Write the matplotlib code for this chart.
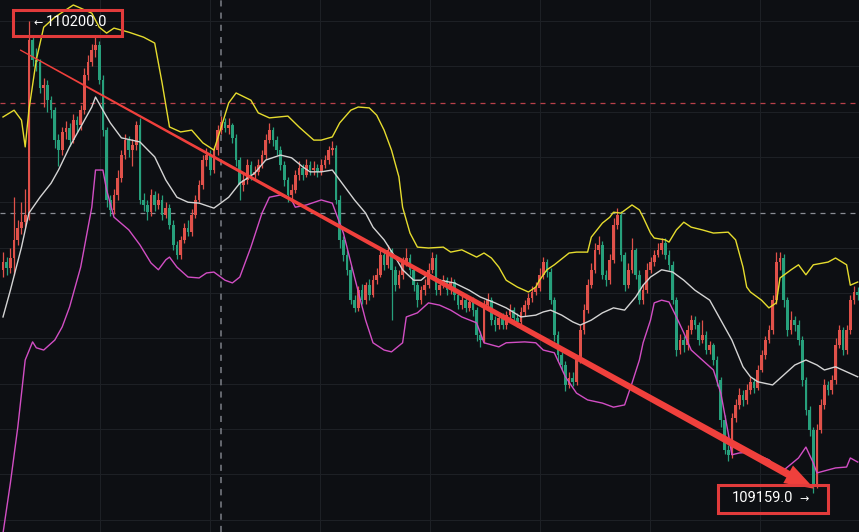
import numpy as np
import matplotlib.pyplot as plt
from matplotlib.patches import Polygon, Rectangle
from matplotlib.transforms import IdentityTransform

# candle data (price), open of each candle = previous close
first_open = 109650
close = [109668, 109655, 109677, 109717, 109743, 109756, 109772, 110158, 110114, 110109,
         110052, 110059, 110025, 110003, 109937, 109915, 109955, 109964, 109937, 109981,
         109970, 110003, 110081, 110109, 110136, 110147, 110070, 109959, 109805, 109783,
         109816, 109853, 109904, 109937, 109915, 109926, 109970, 109805, 109794, 109778,
         109816, 109794, 109805, 109772, 109787, 109750, 109706, 109684, 109717, 109743,
         109734, 109772, 109805, 109838, 109893, 109904, 109871, 109915, 109959, 109977,
         109964, 109970, 109942, 109893, 109838, 109849, 109882, 109860, 109867, 109882,
         109904, 109937, 109959, 109937, 109915, 109882, 109849, 109816, 109827, 109860,
         109876, 109860, 109882, 109871, 109876, 109867, 109882, 109893, 109915, 109920,
         109805, 109717, 109684, 109651, 109584, 109567, 109606, 109584, 109617, 109595,
         109628, 109640, 109684, 109662, 109695, 109651, 109617, 109640, 109668, 109677,
         109651, 109617, 109584, 109606, 109617, 109651, 109677, 109606, 109617, 109628,
         109606, 109624, 109595, 109573, 109584, 109567, 109580, 109562, 109507, 109496,
         109573, 109584, 109540, 109529, 109545, 109529, 109551, 109562, 109545, 109536,
         109558, 109573, 109589, 109602, 109611, 109640, 109668, 109646, 109584, 109507,
         109463, 109441, 109397, 109412, 109404, 109452, 109518, 109562, 109617, 109651,
         109695, 109706, 109640, 109628, 109673, 109750, 109772, 109684, 109617, 109651,
         109695, 109640, 109584, 109606, 109651, 109668, 109684, 109695, 109710, 109684,
         109662, 109584, 109474, 109496, 109485, 109518, 109540, 109529, 109496, 109507,
         109474, 109485, 109452, 109408, 109320, 109254, 109243, 109324, 109353, 109375,
         109364, 109386, 109404, 109390, 109430, 109463, 109496, 109518, 109584, 109668,
         109677, 109584, 109518, 109540, 109529, 109496, 109408, 109342, 109298, 109176,
         109298, 109353, 109397, 109386, 109408, 109485, 109518, 109474, 109518, 109584,
         109602, 109595]
high = [109690, 109680, 109700, 109811, 109760, 109800, 109830, 110200, 110165, 110140,
        110115, 110075, 110070, 110035, 110010, 109950, 109965, 109980, 109975, 109995,
        109990, 110015, 110095, 110125, 110150, 110164, 110155, 110080, 109965, 109815,
        109830, 109870, 109915, 109950, 109945, 109940, 109980, 109986, 109820, 109805,
        109830, 109825, 109820, 109815, 109800, 109795, 109760, 109715, 109725, 109755,
        109760, 109785, 109815, 109850, 109905, 109920, 109915, 109925, 109970, 109990,
        109985, 109985, 109975, 109950, 109900, 109865, 109895, 109890, 109880, 109895,
        109915, 109950, 109975, 109965, 109945, 109925, 109890, 109855, 109840, 109870,
        109890, 109885, 109895, 109890, 109890, 109885, 109895, 109905, 109925, 109935,
        109926, 109815, 109725, 109695, 109660, 109595, 109615, 109620, 109625, 109630,
        109640, 109655, 109695, 109690, 109705, 109700, 109660, 109650, 109680, 109700,
        109685, 109660, 109625, 109615, 109630, 109665, 109690, 109685, 109630, 109640,
        109635, 109635, 109630, 109605, 109595, 109595, 109590, 109590, 109570, 109515,
        109585, 109600, 109590, 109550, 109555, 109555, 109560, 109575, 109570, 109555,
        109570, 109585, 109600, 109615, 109625, 109655, 109680, 109675, 109655, 109590,
        109515, 109470, 109450, 109425, 109425, 109460, 109530, 109575, 109630, 109665,
        109710, 109725, 109715, 109650, 109685, 109765, 109787, 109780, 109690, 109665,
        109720, 109700, 109650, 109620, 109665, 109680, 109695, 109710, 109720, 109720,
        109695, 109670, 109590, 109510, 109505, 109530, 109552, 109550, 109535, 109540,
        109515, 109495, 109490, 109460, 109415, 109330, 109265, 109335, 109365, 109390,
        109385, 109400, 109415, 109412, 109442, 109475, 109505, 109530, 109595, 109690,
        109690, 109685, 109590, 109560, 109548, 109540, 109505, 109415, 109350, 109305,
        109310, 109365, 109410, 109405, 109420, 109500, 109530, 109525, 109530, 109596,
        109615, 109612]
low = [109635, 109640, 109645, 109640, 109705, 109730, 109745, 109760, 110100, 110090,
       110040, 110010, 110000, 109985, 109920, 109880, 109905, 109940, 109925, 109930,
       109955, 109960, 109995, 110070, 110100, 110120, 110060, 109945, 109790, 109770,
       109775, 109805, 109845, 109895, 109900, 109880, 109915, 109795, 109780, 109760,
       109770, 109780, 109785, 109760, 109765, 109740, 109695, 109675, 109675, 109710,
       109725, 109725, 109765, 109800, 109830, 109880, 109860, 109865, 109905, 109950,
       109955, 109950, 109930, 109880, 109805, 109825, 109840, 109850, 109850, 109860,
       109875, 109895, 109930, 109925, 109905, 109870, 109835, 109800, 109805, 109820,
       109850, 109850, 109855, 109860, 109860, 109855, 109860, 109875, 109885, 109905,
       109795, 109700, 109670, 109640, 109575, 109558, 109560, 109575, 109575, 109585,
       109590, 109620, 109635, 109650, 109655, 109540, 109605, 109610, 109630, 109660,
       109640, 109605, 109570, 109575, 109595, 109610, 109645, 109595, 109595, 109610,
       109595, 109598, 109585, 109565, 109565, 109558, 109560, 109550, 109495, 109480,
       109490, 109565, 109530, 109515, 109520, 109520, 109520, 109545, 109535, 109525,
       109530, 109550, 109565, 109580, 109595, 109605, 109630, 109635, 109575, 109495,
       109450, 109430, 109384, 109390, 109395, 109398, 109445, 109510, 109555, 109610,
       109645, 109685, 109630, 109615, 109620, 109665, 109740, 109670, 109605, 109610,
       109645, 109630, 109575, 109575, 109600, 109645, 109660, 109680, 109685, 109675,
       109650, 109575, 109460, 109465, 109470, 109475, 109510, 109520, 109485, 109490,
       109465, 109465, 109440, 109395, 109305, 109245, 109230, 109235, 109315, 109345,
       109350, 109355, 109378, 109380, 109385, 109425, 109455, 109490, 109510, 109575,
       109650, 109570, 109505, 109510, 109515, 109485, 109395, 109330, 109285, 109159,
       109170, 109290, 109345, 109375, 109378, 109400, 109478, 109462, 109465, 109510,
       109575, 109585]

# bollinger bands (candle index, price)
upper_idx = [0, 3, 5, 6, 7, 9, 11, 14, 19, 21, 24, 26, 28, 30, 34, 38, 41, 43, 45, 48,
             51, 54, 57, 59, 61, 63, 67, 69, 72, 77, 80, 84, 86, 89, 91, 94, 96, 99, 101, 103,
             105, 107, 108, 110, 112, 115, 119, 121, 124, 128, 130, 132, 134, 136, 139, 142, 144, 145, 147, 149,
             153, 155, 158, 159, 162, 164, 165, 167, 170, 172, 173, 175, 176, 179, 180, 182, 184, 186, 189, 192,
             196, 198, 200, 201, 202, 205, 207, 209, 210, 213, 215, 217, 219, 223, 225, 228, 229, 231]
upper_val = [109988, 110003, 109981, 109922, 110003, 110114, 110186, 110208, 110235, 110228,
             110217, 110186, 110173, 110184, 110175, 110164, 110151, 110063, 109966, 109955,
             109959, 109931, 109915, 109966, 110019, 110041, 110025, 109997, 109986, 109990,
             109966, 109937, 109937, 109944, 109975, 110003, 110010, 110008, 109992, 109959,
             109915, 109856, 109789, 109732, 109701, 109699, 109701, 109690, 109695, 109679,
             109688, 109677, 109657, 109628, 109613, 109602, 109613, 109628, 109651, 109662,
             109688, 109690, 109690, 109723, 109754, 109767, 109778, 109776, 109794, 109783,
             109767, 109732, 109721, 109717, 109712, 109739, 109756, 109745, 109739, 109732,
             109734, 109717, 109657, 109613, 109602, 109584, 109567, 109578, 109633, 109651,
             109662, 109640, 109662, 109668, 109677, 109662, 109617, 109624]
mid_idx = [0, 2, 5, 7, 10, 13, 15, 18, 21, 24, 25, 27, 29, 32, 37, 41, 44, 47, 50, 53,
           57, 61, 64, 68, 71, 75, 78, 81, 83, 86, 89, 91, 95, 98, 100, 103, 106, 108, 111, 113,
           115, 118, 122, 126, 129, 133, 136, 140, 144, 146, 148, 151, 154, 156, 159, 162, 165, 168, 171, 173,
           175, 178, 181, 184, 187, 191, 194, 197, 200, 202, 204, 208, 211, 214, 217, 220, 222, 225, 228, 231]
mid_val = [109547, 109606, 109701, 109776, 109811, 109842, 109871, 109922, 109966, 110010,
           110032, 110003, 109975, 109942, 109933, 109900, 109849, 109811, 109800, 109798,
           109787, 109811, 109842, 109864, 109893, 109904, 109898, 109878, 109867, 109867,
           109871, 109849, 109805, 109776, 109745, 109717, 109679, 109651, 109628, 109628,
           109642, 109628, 109622, 109606, 109591, 109578, 109567, 109547, 109551, 109558,
           109562, 109551, 109536, 109529, 109540, 109556, 109567, 109562, 109591, 109617,
           109635, 109651, 109646, 109628, 109606, 109584, 109540, 109496, 109437, 109415,
           109404, 109397, 109419, 109441, 109452, 109441, 109430, 109437, 109426, 109415]
lower_idx = [0, 2, 4, 6, 8, 9, 11, 14, 16, 18, 21, 24, 25, 27, 28, 30, 34, 37, 40, 42,
             44, 45, 47, 50, 53, 55, 57, 60, 62, 64, 67, 70, 72, 75, 78, 79, 82, 86, 89, 92,
             95, 98, 100, 103, 105, 108, 109, 112, 115, 118, 121, 124, 128, 130, 134, 136, 141, 144, 146, 149,
             152, 155, 158, 162, 165, 168, 170, 172, 173, 175, 176, 178, 180, 182, 184, 186, 189, 192, 194, 196,
             197, 199, 202, 207, 209, 211, 215, 217, 219, 220, 225, 228, 229, 231]
lower_val = [109070, 109181, 109304, 109452, 109492, 109479, 109474, 109496, 109525, 109569,
             109657, 109789, 109871, 109871, 109827, 109767, 109739, 109706, 109666, 109651,
             109673, 109679, 109657, 109635, 109633, 109644, 109646, 109628, 109622, 109635,
             109701, 109776, 109811, 109816, 109805, 109789, 109794, 109805, 109798, 109732,
             109635, 109540, 109490, 109474, 109470, 109490, 109547, 109556, 109578, 109573,
             109562, 109547, 109534, 109490, 109481, 109490, 109492, 109490, 109474, 109468,
             109415, 109379, 109364, 109357, 109348, 109353, 109401, 109452, 109490, 109540,
             109578, 109584, 109580, 109547, 109512, 109474, 109452, 109430, 109379, 109291,
             109243, 109247, 109249, 109232, 109216, 109209, 109236, 109260, 109225, 109203,
             109214, 109216, 109236, 109227]

level_red = 110019
level_gray = 109776
cursor_idx = 58.9
high_label = "110200.0"
low_label = "109159.0"
trend_start = (4.6, 110136)
trend_end = (219.3, 109168)

bg = '#0d0f13'
up_col = '#e0514a'
down_col = '#27a07c'

fig = plt.figure(figsize=(8.59, 5.32), dpi=100)
fig.patch.set_facecolor(bg)
ax = fig.add_axes([0, 0, 1, 1])
ax.set_facecolor(bg)
ax.set_xlim(-0.81, 231.35)
ax.set_ylim(109072.7, 110246)
ax.axis('off')

# grid
for p in np.arange(109100, 110300, 100):
    ax.axhline(p, color='#1d2025', lw=0.8, zorder=0)
for xi in np.arange(26.2, 232, 29.73):
    ax.axvline(xi, color='#1d2025', lw=0.8, zorder=0)

ax.axvline(cursor_idx, color='#7d8088', lw=1.1, ls=(0, (4, 4)), zorder=1)
ax.axhline(level_red, color='#b8404a', lw=0.9, ls=(0, (4, 4)), zorder=1)
ax.axhline(level_gray, color='#8a8d94', lw=0.9, ls=(0, (4, 4)), zorder=1)

# candles
idx = np.arange(len(close))
c = np.array(close, dtype=float)
o = np.array([first_open] + close[:-1], dtype=float)
h = np.array(high, dtype=float)
l = np.array(low, dtype=float)
cols = np.where(c >= o, up_col, down_col)
ax.vlines(idx, l, h, colors=cols, lw=0.9, zorder=2)
body = np.maximum(np.abs(c - o), 2.5)
ax.bar(idx, body, bottom=np.minimum(o, c), width=0.72, color=cols, zorder=3)

# bands
ax.plot(upper_idx, upper_val, color='#e6dc2e', lw=1.0, zorder=4)
ax.plot(mid_idx, mid_val, color='#d4d4d4', lw=1.0, zorder=4)
ax.plot(lower_idx, lower_val, color='#d24ec4', lw=1.0, zorder=4)

# tapered trend arrow
fig.canvas.draw()
p0 = ax.transData.transform(trend_start)
p1 = ax.transData.transform(trend_end)
d = (p1 - p0) / np.hypot(*(p1 - p0))
n = np.array([-d[1], d[0]])
head_len, head_w, w0, w1 = 30, 20, 1.3, 7.5
pb = p1 - d * head_len
verts = [p0 + n * w0 / 2, pb + n * w1 / 2, pb + n * head_w / 2, p1,
         pb - n * head_w / 2, pb - n * w1 / 2, p0 - n * w0 / 2]
ax.add_patch(Polygon(verts, closed=True, color='#f0403c', lw=0,
                     transform=IdentityTransform(), zorder=6))

# label boxes (pixel overlay)
ov = fig.add_axes([0, 0, 1, 1])
ov.set_xlim(0, 859)
ov.set_ylim(532, 0)
ov.axis('off')
ov.patch.set_alpha(0)
fam = ['Roboto', 'DejaVu Sans']
ov.add_patch(Rectangle((13, 10), 109, 26, fill=False, ec='#e23b3b', lw=2.2))
ov.text(33, 23.5, '\u2190', color='white', fontsize=8, va='center', family=fam)
ov.text(46, 22.5, high_label, color='white', fontsize=10.5, va='center', family=fam)
ov.add_patch(Rectangle((718, 485), 110, 28, fill=False, ec='#e23b3b', lw=2.2))
ov.text(732, 498.5, low_label, color='white', fontsize=10.5, va='center', family=fam)
ov.text(799, 499.5, '\u2192', color='white', fontsize=8, va='center', family=fam)

fig.savefig('out.png', dpi=100, facecolor=bg)
